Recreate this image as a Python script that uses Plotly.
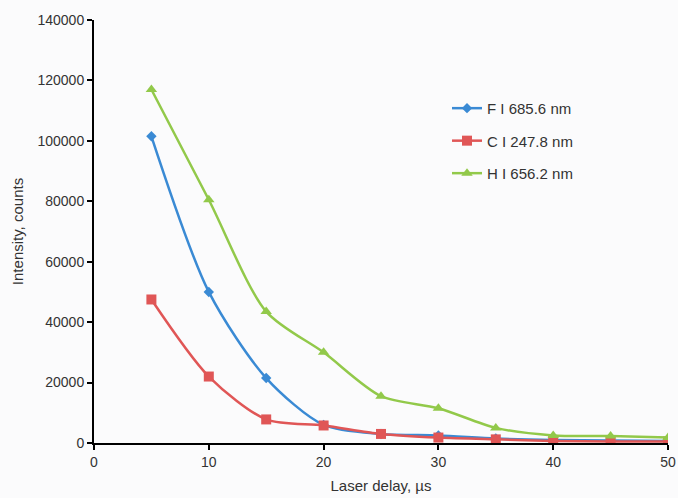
import plotly.graph_objects as go

delay = [5, 10, 15, 20, 25, 30, 35, 40, 45, 50]
f_vals = [101500, 50000, 21500, 6000, 3000, 2500, 1500, 1000, 800, 700]
c_vals = [47500, 22000, 7800, 5800, 3000, 1800, 1200, 700, 500, 500]
h_vals = [117000, 80500, 43500, 30000, 15500, 11500, 5000, 2500, 2300, 1800]

series = [
    ("F I 685.6 nm", f_vals, "#3a8ad4", "diamond", 8),
    ("C I 247.8 nm", c_vals, "#e05656", "square", 10),
    ("H I 656.2 nm", h_vals, "#92c94a", "triangle-up", 10),
]

fig = go.Figure()
for i, (name, vals, color, sym, size) in enumerate(series):
    fig.add_trace(go.Scatter(
        x=delay, y=vals, name=name, mode="lines+markers",
        line=dict(color=color, width=2.5, shape="spline", smoothing=0.8),
        marker=dict(symbol=sym, size=size, color=color),
        legendgroup=str(i),
    ))

fig.update_layout(
    width=678, height=498,
    margin=dict(l=94, r=10, t=20, b=55),
    paper_bgcolor="#fbfbfc", plot_bgcolor="#fbfbfc",
    font=dict(family="Liberation Sans, Arial, sans-serif", size=14, color="#333333"),
    showlegend=True,
    legend=dict(x=0.615, y=0.83, xanchor="left", yanchor="top",
                bgcolor="rgba(0,0,0,0)", tracegroupgap=10,
                traceorder="grouped", font=dict(size=15), itemwidth=30),
    xaxis=dict(range=[0, 50], tickvals=[0, 10, 20, 30, 40, 50],
               showline=True, linecolor="black", linewidth=2,
               ticks="outside", ticklen=5, tickwidth=2, tickcolor="black",
               showgrid=False, zeroline=False, automargin=False,
               title=dict(text="Laser delay, µs", font=dict(size=15), standoff=12)),
    yaxis=dict(range=[0, 140000], tickvals=list(range(0, 140001, 20000)),
               tickformat="d", automargin=False,
               showline=True, linecolor="black", linewidth=2,
               ticks="outside", ticklen=5, tickwidth=2, tickcolor="black",
               showgrid=False, zeroline=False,
               title=dict(text="Intensity, counts", font=dict(size=15), standoff=10)),
)

fig.write_html("out.html")
